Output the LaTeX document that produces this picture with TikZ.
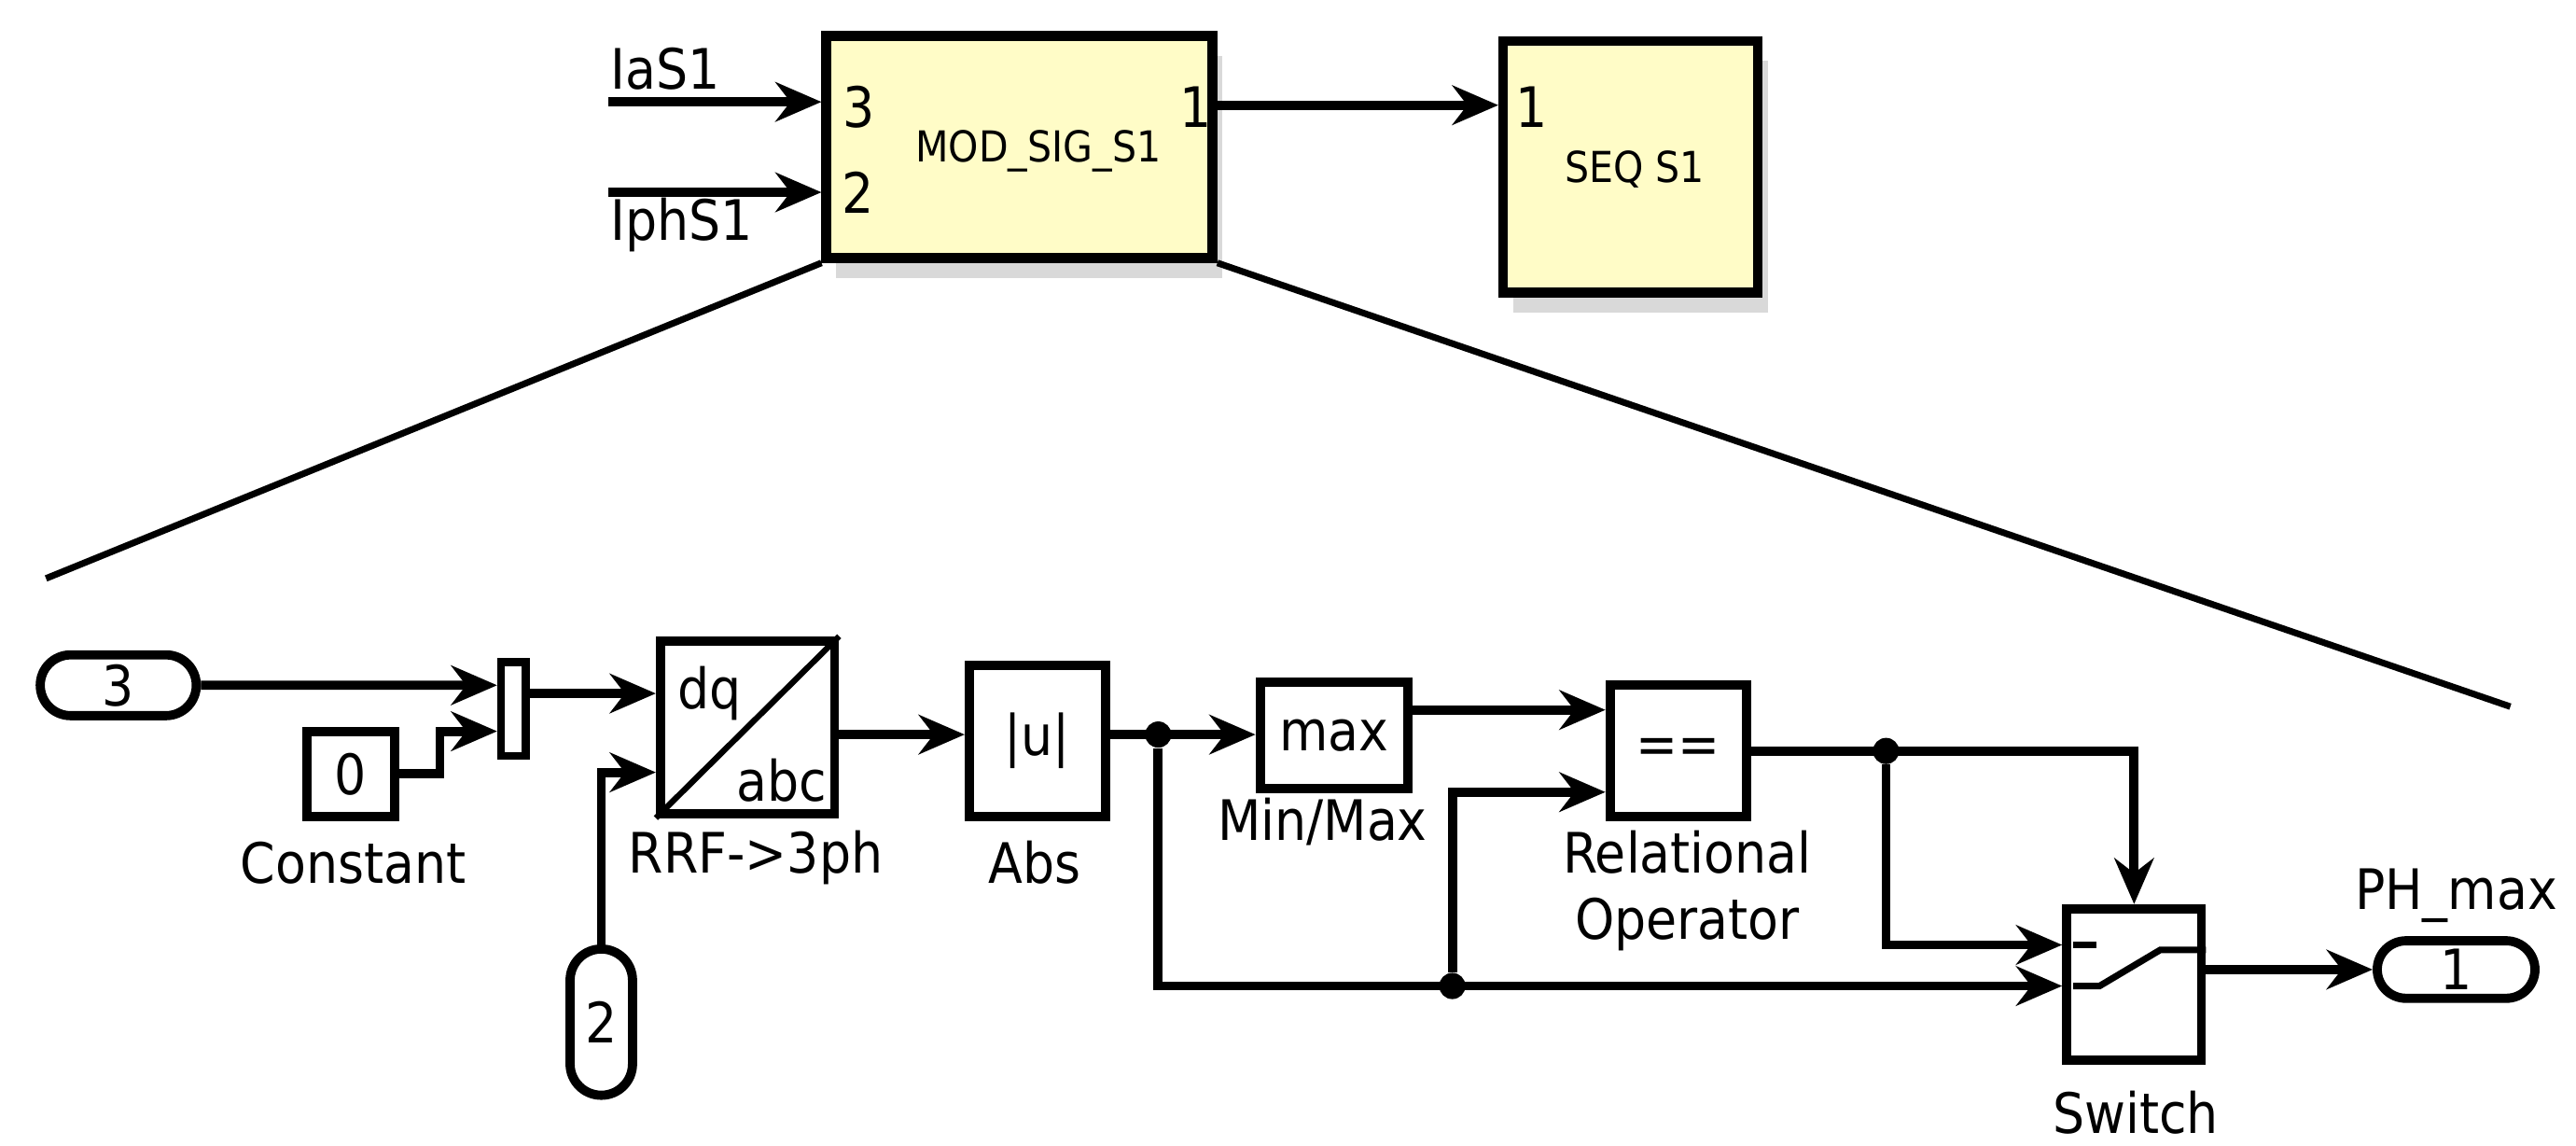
\documentclass[tikz,border=0pt]{standalone}
\usepackage{fontspec}
\setmainfont{DejaVu Sans Condensed}
\usetikzlibrary{arrows.meta,shapes.misc,shadows,calc}
\def\px{0.01761cm}
\tikzset{
  blk/.style={draw,line width=2.8pt,minimum width=#1*\px,inner sep=0pt},
  sub/.style={draw,line width=3pt,fill=yellow!22,drop shadow={opacity=0.3,shadow xshift=3pt,shadow yshift=-6pt}},
  port/.style={draw,line width=2.8pt,rounded rectangle,inner sep=0pt},
  sig/.style={line width=2.8pt,-{Stealth[length=14pt,width=12pt]}},
  lbl/.style={font=\fontsize{17}{20}\selectfont},
  dot/.style={circle,fill,inner sep=0pt,minimum size=8pt}
}
\begin{document}
\begin{tikzpicture}[x=0.01761cm,y=-0.01761cm]
\useasboundingbox (0,0) rectangle (1568,697);

%top level
\node (mod) [sub,minimum width=235*\px,minimum height=135*\px] at (620.5,89.5) {};
\node (seq) [sub,minimum width=155*\px,minimum height=153*\px] at (992.5,101.5) {};
\node [lbl,font=\fontsize{13}{15}\selectfont] at (632,92) {MOD\_SIG\_S1};
\node [lbl,font=\fontsize{13}{15}\selectfont] at (995,103) {SEQ S1};
\node [lbl] at (523,65) {3};
\node [lbl] at (522,117) {2};
\node [lbl] at (728,65) {1};
\node [lbl] at (932,65) {1};
\node (ias) [lbl] at (405,42) {IaS1};
\node (iph) [lbl] at (415,137) {IphS1};
\coordinate (a3) at (370,62);
\coordinate (a2) at (370,117);
\draw [sig] (a3) -- (mod.west |- a3);
\draw [sig] (a2) -- (mod.west |- a2);
\draw [sig] (mod.east |- 0,64) -- (seq.west |- 0,64);

%zoom lines
\coordinate (zl) at (28,352);
\coordinate (zr) at (1528,430);
\draw [line width=2pt] (mod.south west) -- (zl);
\draw [line width=2pt] (mod.south east) -- (zr);

%subsystem
\node (in3) [port,minimum width=95*\px,minimum height=37*\px,lbl] at (72,417) {3};
\node (mux) [blk=15,minimum height=57*\px,line width=2.4pt] at (312.5,431.5) {};
\node (cst) [blk=53,minimum height=52*\px,lbl] at (213.5,471) {0};
\node [lbl] at (215,525) {Constant};
\node (rrf) [blk=106,minimum height=105*\px] at (455,442.5) {};
\draw [line width=1.8pt] (rrf.south west) -- (rrf.north east);
\node [lbl] at (432,422) {dq};
\node [lbl] at (476,475) {abc};
\node [lbl] at (460,522) {RRF->3ph};
\node (in2) [port,rotate=90,minimum width=89*\px,minimum height=38*\px] at (366,622) {};
\node [lbl] at (366,622) {2};
\node (abs) [blk=83,minimum height=92*\px,lbl] at (631.5,451) {|u|};
\node [lbl] at (630,525) {Abs};
\node (mx) [blk=90,minimum height=65*\px,lbl] at (812,447.5) {max};
\node [lbl] at (805,500) {Min/Max};
\node (rel) [blk=83,minimum height=80*\px,lbl] at (1021.5,457) {==};
\node [lbl,align=center] at (1027,542) {Relational\\Operator};
\node (sw) [blk=82,minimum height=92*\px] at (1299,599) {};
\node [lbl] at (1300,677) {Switch};
\node (out) [port,minimum width=96*\px,minimum height=35*\px,lbl] at (1495,590) {1};
\node [lbl] at (1495,545) {PH\_max};

%switch symbol
\draw [line width=2pt] (1262,575) -- (1276,575);
\draw [line width=2pt] (1262,600) -- (1278,600) -- (1315,578) -- (sw.east |- 0,578);

%signals
\draw [sig] (in3) -- (mux.west |- in3);
\draw [sig] (cst.east) -- ++(25,0) |- (mux.west |- 0,445);
\draw [sig] (mux.east |- 0,422) -- (rrf.west |- 0,422);
\draw [sig] (in2.east) -- (366,470) -- (rrf.west |- 0,470);
\draw [sig] (rrf.east |- 0,447) -- (abs.west |- 0,447);
\draw [sig] (abs.east |- 0,447) -- (mx.west |- 0,447);
\node (d1) [dot] at (705,447) {};
\node (d2) [dot] at (884,600) {};
\node (d3) [dot] at (1148,457) {};
\draw [sig] (d1) -- (705,600) -- (sw.west |- 0,600);
\draw [sig] (d2) -- (884,482) -- (rel.west |- 0,482);
\draw [sig] (mx.east |- 0,432) -- (rel.west |- 0,432);
\draw [sig] (rel.east |- 0,457) -- (sw.north |- 0,457) -- (sw.north);
\draw [sig] (d3) -- (1148,575) -- (sw.west |- 0,575);
\draw [sig] (sw.east |- 0,590) -- (out.west);
\end{tikzpicture}
\end{document}
